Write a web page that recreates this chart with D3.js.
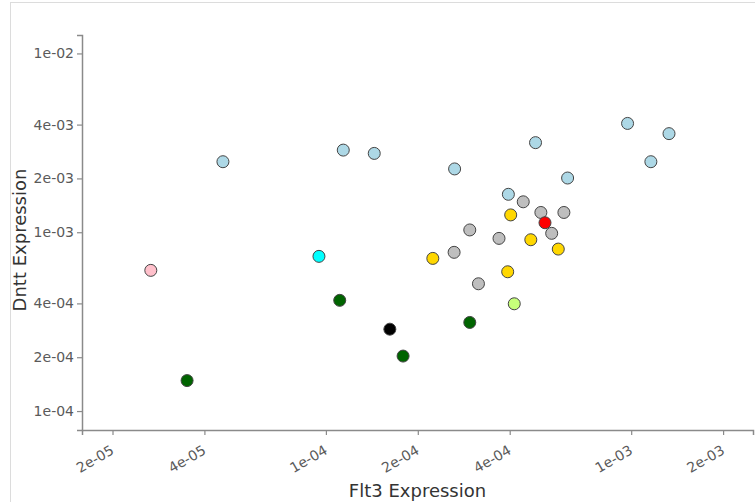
<!DOCTYPE html>
<html>
<head>
<meta charset="utf-8">
<script src="https://cdn.jsdelivr.net/npm/d3@7"></script>
<style>
  html, body { margin: 0; padding: 0; background: #fff; }
  svg { display: block; }
</style>
</head>
<body>
<svg id="chart" width="755" height="502"></svg>
<script>
// Flt3 vs Dntt expression per sample, coloured by group
const groups = ["pink", "cyan", "lightblue", "gray", "gold", "red", "darkgreen", "black", "lightgreen"];
const groupColors = ["#ffc0cb", "#00ffff", "#add8e6", "#bebebe", "#ffd700", "#ff0000", "#006400", "#000000", "#c6ff7a"];

const flt3 = [2.67e-05, 3.51e-05, 4.60e-05, 9.49e-05, 1.11e-04, 1.14e-04, 1.44e-04, 1.62e-04,
              1.79e-04, 2.24e-04, 2.64e-04, 2.63e-04, 2.96e-04, 2.96e-04, 3.16e-04, 3.69e-04,
              3.96e-04, 4.03e-04, 3.94e-04, 4.14e-04, 4.43e-04, 4.69e-04, 4.86e-04, 5.06e-04,
              5.22e-04, 5.49e-04, 5.77e-04, 6.02e-04, 6.19e-04, 9.73e-04, 1.16e-03, 1.33e-03];
const dntt = [6.12e-04, 1.48e-04, 2.48e-03, 7.33e-04, 4.16e-04, 2.88e-03, 2.76e-03, 2.87e-04,
              2.03e-04, 7.14e-04, 2.26e-03, 7.72e-04, 1.03e-03, 3.13e-04, 5.15e-04, 9.24e-04,
              1.63e-03, 1.25e-03, 6.01e-04, 3.98e-04, 1.48e-03, 9.08e-04, 3.17e-03, 1.29e-03,
              1.13e-03, 9.86e-04, 8.05e-04, 1.29e-03, 2.01e-03, 4.06e-03, 2.48e-03, 3.56e-03];
const group = ["pink", "darkgreen", "lightblue", "cyan", "darkgreen", "lightblue", "lightblue", "black",
               "darkgreen", "gold", "lightblue", "gray", "gray", "darkgreen", "gray", "gray",
               "lightblue", "gold", "gold", "lightgreen", "gray", "gold", "lightblue", "gray",
               "red", "gray", "gold", "gray", "lightblue", "lightblue", "lightblue", "lightblue"];

const xTicks = [2e-05, 4e-05, 1e-04, 2e-04, 4e-04, 1e-03, 2e-03];
const xTickLabels = ["2e-05", "4e-05", "1e-04", "2e-04", "4e-04", "1e-03", "2e-03"];
const yTicks = [1e-04, 2e-04, 4e-04, 1e-03, 2e-03, 4e-03, 1e-02];
const yTickLabels = ["1e-04", "2e-04", "4e-04", "1e-03", "2e-03", "4e-03", "1e-02"];

const xTitle = "Flt3 Expression";
const yTitle = "Dntt Expression";

const svg = d3.select("#chart");
const font = "'DejaVu Sans', Verdana, sans-serif";
const textColor = "#5a5a5a";
const axisColor = "#8a8a8a";

// outer frame
svg.append("rect")
  .attr("x", 10.5).attr("y", 2.5)
  .attr("width", 800).attr("height", 600)
  .attr("fill", "none").attr("stroke", "#dcdcdc");

const plotLeft = 82, plotRight = 753, plotTop = 35, plotBottom = 430;

const x = d3.scaleLog().domain([1.589e-05, 2.506e-03]).range([plotLeft, plotRight]);
const y = d3.scaleLog().domain([7.834e-05, 1.268e-02]).range([plotBottom, plotTop]);

const color = d3.scaleOrdinal().domain(groups).range(groupColors);

// x axis
const xAxis = svg.append("g")
  .attr("transform", `translate(0,${plotBottom})`)
  .call(d3.axisBottom(x).tickValues(xTicks)
    .tickFormat((d, i) => xTickLabels[i]).tickSizeOuter(0).tickSize(5).tickPadding(4));
xAxis.select(".domain").attr("stroke", axisColor).attr("stroke-width", 1.5);
xAxis.selectAll(".tick line").attr("stroke", axisColor).attr("stroke-width", 1.2);
xAxis.selectAll(".tick text")
  .attr("fill", textColor).attr("font-family", font).attr("font-size", 14)
  .attr("text-anchor", "end")
  .attr("dy", null).attr("y", 0)
  .attr("transform", "translate(2,23) rotate(-30)");

// y axis
const yAxis = svg.append("g")
  .attr("transform", `translate(${plotLeft},0)`)
  .call(d3.axisLeft(y).tickValues(yTicks)
    .tickFormat((d, i) => yTickLabels[i]).tickSizeOuter(0).tickSize(5).tickPadding(3));
yAxis.select(".domain").attr("stroke", axisColor).attr("stroke-width", 1.5);
yAxis.selectAll(".tick line").attr("stroke", axisColor).attr("stroke-width", 1.2);
yAxis.selectAll(".tick text")
  .attr("fill", textColor).attr("font-family", font).attr("font-size", 14);

// axis titles
svg.append("text")
  .attr("x", (plotLeft + plotRight) / 2).attr("y", 497)
  .attr("text-anchor", "middle")
  .attr("font-family", font).attr("font-size", 18).attr("fill", "#333")
  .text(xTitle);
svg.append("text")
  .attr("transform", `translate(26,240) rotate(-90)`)
  .attr("text-anchor", "middle")
  .attr("font-family", font).attr("font-size", 18).attr("fill", "#333")
  .text(yTitle);

// points
const points = flt3.map((v, i) => ({ fx: v, dy: dntt[i], g: group[i] }));
svg.append("g")
  .selectAll("circle")
  .data(points)
  .join("circle")
  .attr("cx", d => x(d.fx))
  .attr("cy", d => y(d.dy))
  .attr("r", 6)
  .attr("fill", d => color(d.g))
  .attr("stroke", "#444")
  .attr("stroke-width", 1);
</script>
</body>
</html>
